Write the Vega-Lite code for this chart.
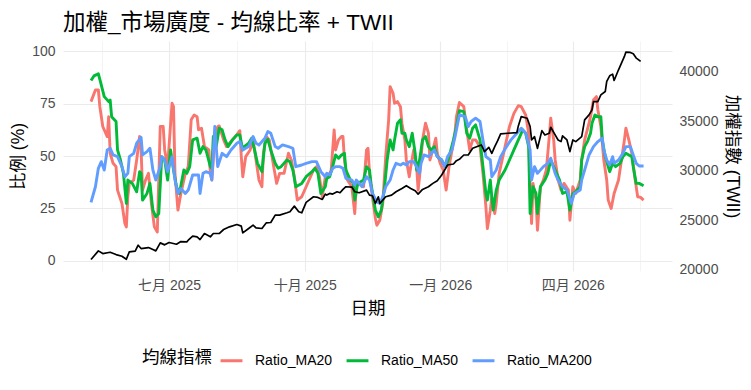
{
  "$schema": "https://vega.github.io/schema/vega-lite/v6.json",
  "width": 609,
  "height": 230,
  "autosize": {"type": "none"},
  "padding": {"left": 63, "top": 41, "right": 79, "bottom": 119},
  "background": "white",
  "config": {
    "font": "Liberation Sans, Noto Sans CJK TC, sans-serif",
    "view": {"stroke": null}
  },
  "title": {
    "text": "加權_市場廣度 - 均線比率 + TWII",
    "anchor": "start",
    "frame": "group",
    "fontSize": 22.5,
    "fontWeight": "normal",
    "color": "#000000",
    "baseline": "alphabetic",
    "offset": 10,
    "dy": 21.5
  },
  "datasets": {
    "ma20": [
      {"date": "2025-05-09", "ratio": 76.0}, {"date": "2025-05-12", "ratio": 81.6}, {"date": "2025-05-14", "ratio": 81.6},
      {"date": "2025-05-15", "ratio": 73.6}, {"date": "2025-05-17", "ratio": 64.1}, {"date": "2025-05-20", "ratio": 59.3},
      {"date": "2025-05-21", "ratio": 68.8}, {"date": "2025-05-22", "ratio": 51.3}, {"date": "2025-05-24", "ratio": 46.5},
      {"date": "2025-05-26", "ratio": 44.9}, {"date": "2025-05-27", "ratio": 33.7}, {"date": "2025-05-30", "ratio": 27.3},
      {"date": "2025-06-01", "ratio": 17.7}, {"date": "2025-06-02", "ratio": 16.1}, {"date": "2025-06-03", "ratio": 30.5},
      {"date": "2025-06-04", "ratio": 36.9}, {"date": "2025-06-07", "ratio": 38.5}, {"date": "2025-06-09", "ratio": 48.1},
      {"date": "2025-06-11", "ratio": 59.3}, {"date": "2025-06-12", "ratio": 52.9}, {"date": "2025-06-13", "ratio": 33.7},
      {"date": "2025-06-15", "ratio": 38.5}, {"date": "2025-06-17", "ratio": 41.7}, {"date": "2025-06-19", "ratio": 27.3},
      {"date": "2025-06-21", "ratio": 16.1}, {"date": "2025-06-23", "ratio": 13.7}, {"date": "2025-06-25", "ratio": 64.1},
      {"date": "2025-06-27", "ratio": 64.1}, {"date": "2025-06-28", "ratio": 52.9}, {"date": "2025-06-30", "ratio": 44.9},
      {"date": "2025-07-03", "ratio": 75.2}, {"date": "2025-07-04", "ratio": 73.6}, {"date": "2025-07-05", "ratio": 41.7},
      {"date": "2025-07-07", "ratio": 24.1}, {"date": "2025-07-09", "ratio": 32.1}, {"date": "2025-07-12", "ratio": 41.7},
      {"date": "2025-07-14", "ratio": 44.9}, {"date": "2025-07-16", "ratio": 67.3}, {"date": "2025-07-18", "ratio": 69.6},
      {"date": "2025-07-20", "ratio": 68.8}, {"date": "2025-07-21", "ratio": 62.5}, {"date": "2025-07-23", "ratio": 63.3},
      {"date": "2025-07-25", "ratio": 54.5}, {"date": "2025-07-28", "ratio": 52.9}, {"date": "2025-07-29", "ratio": 41.7},
      {"date": "2025-07-30", "ratio": 38.5}, {"date": "2025-08-01", "ratio": 57.7}, {"date": "2025-08-03", "ratio": 64.1},
      {"date": "2025-08-04", "ratio": 64.4}, {"date": "2025-08-07", "ratio": 57.7}, {"date": "2025-08-09", "ratio": 54.5},
      {"date": "2025-08-11", "ratio": 56.1}, {"date": "2025-08-15", "ratio": 59.3}, {"date": "2025-08-18", "ratio": 62.1},
      {"date": "2025-08-19", "ratio": 49.7}, {"date": "2025-08-20", "ratio": 40.1}, {"date": "2025-08-22", "ratio": 49.7},
      {"date": "2025-08-25", "ratio": 52.9}, {"date": "2025-08-27", "ratio": 57.7}, {"date": "2025-08-29", "ratio": 48.1},
      {"date": "2025-08-31", "ratio": 38.5}, {"date": "2025-09-02", "ratio": 35.3}, {"date": "2025-09-03", "ratio": 51.3},
      {"date": "2025-09-05", "ratio": 59.3}, {"date": "2025-09-07", "ratio": 57.7}, {"date": "2025-09-10", "ratio": 44.9},
      {"date": "2025-09-12", "ratio": 36.9}, {"date": "2025-09-14", "ratio": 41.7}, {"date": "2025-09-17", "ratio": 41.7},
      {"date": "2025-09-20", "ratio": 51.3}, {"date": "2025-09-22", "ratio": 48.1}, {"date": "2025-09-24", "ratio": 40.1},
      {"date": "2025-09-26", "ratio": 28.9}, {"date": "2025-09-29", "ratio": 30.5}, {"date": "2025-10-02", "ratio": 35.3},
      {"date": "2025-10-07", "ratio": 43.3}, {"date": "2025-10-09", "ratio": 44.9}, {"date": "2025-10-11", "ratio": 40.1},
      {"date": "2025-10-13", "ratio": 30.5}, {"date": "2025-10-15", "ratio": 40.0}, {"date": "2025-10-17", "ratio": 40.1},
      {"date": "2025-10-19", "ratio": 43.3}, {"date": "2025-10-21", "ratio": 62.5}, {"date": "2025-10-22", "ratio": 52.9},
      {"date": "2025-10-24", "ratio": 57.7}, {"date": "2025-10-26", "ratio": 59.3}, {"date": "2025-10-27", "ratio": 59.3},
      {"date": "2025-10-28", "ratio": 48.1}, {"date": "2025-10-30", "ratio": 38.5}, {"date": "2025-11-02", "ratio": 35.3},
      {"date": "2025-11-04", "ratio": 22.5}, {"date": "2025-11-05", "ratio": 35.3}, {"date": "2025-11-07", "ratio": 36.9},
      {"date": "2025-11-10", "ratio": 35.3}, {"date": "2025-11-12", "ratio": 52.9}, {"date": "2025-11-13", "ratio": 53.7},
      {"date": "2025-11-14", "ratio": 41.7}, {"date": "2025-11-16", "ratio": 30.5}, {"date": "2025-11-18", "ratio": 20.1},
      {"date": "2025-11-19", "ratio": 16.9}, {"date": "2025-11-21", "ratio": 19.3}, {"date": "2025-11-23", "ratio": 27.3},
      {"date": "2025-11-25", "ratio": 49.7}, {"date": "2025-11-27", "ratio": 67.3}, {"date": "2025-11-28", "ratio": 83.2},
      {"date": "2025-11-30", "ratio": 80.0}, {"date": "2025-12-01", "ratio": 75.2}, {"date": "2025-12-03", "ratio": 76.0},
      {"date": "2025-12-05", "ratio": 73.6}, {"date": "2025-12-06", "ratio": 65.7}, {"date": "2025-12-08", "ratio": 57.7},
      {"date": "2025-12-09", "ratio": 48.1}, {"date": "2025-12-11", "ratio": 40.1}, {"date": "2025-12-12", "ratio": 44.9},
      {"date": "2025-12-14", "ratio": 52.9}, {"date": "2025-12-16", "ratio": 44.9}, {"date": "2025-12-17", "ratio": 33.7},
      {"date": "2025-12-18", "ratio": 40.1}, {"date": "2025-12-20", "ratio": 57.7}, {"date": "2025-12-22", "ratio": 65.7},
      {"date": "2025-12-24", "ratio": 60.9}, {"date": "2025-12-25", "ratio": 48.1}, {"date": "2025-12-27", "ratio": 52.9},
      {"date": "2025-12-29", "ratio": 58.5}, {"date": "2025-12-30", "ratio": 51.3}, {"date": "2026-01-01", "ratio": 46.5},
      {"date": "2026-01-03", "ratio": 43.3}, {"date": "2026-01-05", "ratio": 33.7}, {"date": "2026-01-07", "ratio": 44.9},
      {"date": "2026-01-09", "ratio": 52.9}, {"date": "2026-01-11", "ratio": 60.9}, {"date": "2026-01-12", "ratio": 68.8},
      {"date": "2026-01-14", "ratio": 75.6}, {"date": "2026-01-17", "ratio": 73.6}, {"date": "2026-01-19", "ratio": 62.5},
      {"date": "2026-01-21", "ratio": 52.9}, {"date": "2026-01-23", "ratio": 57.7}, {"date": "2026-01-25", "ratio": 57.7},
      {"date": "2026-01-28", "ratio": 54.5}, {"date": "2026-01-30", "ratio": 41.7}, {"date": "2026-02-01", "ratio": 25.7},
      {"date": "2026-02-02", "ratio": 15.3}, {"date": "2026-02-04", "ratio": 24.1}, {"date": "2026-02-05", "ratio": 30.5},
      {"date": "2026-02-07", "ratio": 22.5}, {"date": "2026-02-08", "ratio": 27.3}, {"date": "2026-02-10", "ratio": 41.7},
      {"date": "2026-02-14", "ratio": 54.5}, {"date": "2026-02-17", "ratio": 64.1}, {"date": "2026-02-20", "ratio": 70.4},
      {"date": "2026-02-23", "ratio": 74.1}, {"date": "2026-02-25", "ratio": 73.6}, {"date": "2026-02-28", "ratio": 69.6},
      {"date": "2026-03-02", "ratio": 60.9}, {"date": "2026-03-03", "ratio": 35.3}, {"date": "2026-03-04", "ratio": 17.7},
      {"date": "2026-03-05", "ratio": 36.9}, {"date": "2026-03-07", "ratio": 28.9}, {"date": "2026-03-08", "ratio": 14.5},
      {"date": "2026-03-10", "ratio": 35.3}, {"date": "2026-03-12", "ratio": 38.5}, {"date": "2026-03-14", "ratio": 43.3},
      {"date": "2026-03-16", "ratio": 59.3}, {"date": "2026-03-17", "ratio": 68.1}, {"date": "2026-03-19", "ratio": 57.7},
      {"date": "2026-03-20", "ratio": 48.1}, {"date": "2026-03-22", "ratio": 38.5}, {"date": "2026-03-24", "ratio": 33.7},
      {"date": "2026-03-26", "ratio": 36.9}, {"date": "2026-03-29", "ratio": 33.7}, {"date": "2026-03-30", "ratio": 19.3},
      {"date": "2026-04-01", "ratio": 35.3}, {"date": "2026-04-03", "ratio": 32.1}, {"date": "2026-04-06", "ratio": 38.5},
      {"date": "2026-04-07", "ratio": 48.1}, {"date": "2026-04-09", "ratio": 57.7}, {"date": "2026-04-12", "ratio": 65.7},
      {"date": "2026-04-13", "ratio": 68.8}, {"date": "2026-04-15", "ratio": 76.8}, {"date": "2026-04-17", "ratio": 78.4},
      {"date": "2026-04-18", "ratio": 72.0}, {"date": "2026-04-20", "ratio": 64.1}, {"date": "2026-04-22", "ratio": 48.1},
      {"date": "2026-04-24", "ratio": 38.5}, {"date": "2026-04-25", "ratio": 28.9}, {"date": "2026-04-27", "ratio": 24.9},
      {"date": "2026-04-29", "ratio": 32.1}, {"date": "2026-05-02", "ratio": 38.5}, {"date": "2026-05-04", "ratio": 48.1},
      {"date": "2026-05-06", "ratio": 57.7}, {"date": "2026-05-07", "ratio": 63.3}, {"date": "2026-05-09", "ratio": 57.7},
      {"date": "2026-05-11", "ratio": 51.3}, {"date": "2026-05-13", "ratio": 40.1}, {"date": "2026-05-15", "ratio": 30.5},
      {"date": "2026-05-17", "ratio": 30.2}, {"date": "2026-05-19", "ratio": 28.9}
    ],
    "ma50": [
      {"date": "2025-05-09", "ratio": 86.1}, {"date": "2025-05-11", "ratio": 88.3}, {"date": "2025-05-14", "ratio": 89.3},
      {"date": "2025-05-15", "ratio": 86.7}, {"date": "2025-05-18", "ratio": 78.4}, {"date": "2025-05-21", "ratio": 76.0},
      {"date": "2025-05-22", "ratio": 76.8}, {"date": "2025-05-23", "ratio": 68.8}, {"date": "2025-05-26", "ratio": 66.5},
      {"date": "2025-05-27", "ratio": 52.9}, {"date": "2025-05-29", "ratio": 48.1}, {"date": "2025-05-31", "ratio": 41.7},
      {"date": "2025-06-02", "ratio": 27.3}, {"date": "2025-06-03", "ratio": 38.5}, {"date": "2025-06-06", "ratio": 36.9},
      {"date": "2025-06-09", "ratio": 32.9}, {"date": "2025-06-11", "ratio": 42.5}, {"date": "2025-06-12", "ratio": 41.7},
      {"date": "2025-06-13", "ratio": 28.9}, {"date": "2025-06-16", "ratio": 32.1}, {"date": "2025-06-18", "ratio": 36.9},
      {"date": "2025-06-20", "ratio": 24.1}, {"date": "2025-06-22", "ratio": 20.9}, {"date": "2025-06-24", "ratio": 22.5},
      {"date": "2025-06-26", "ratio": 49.7}, {"date": "2025-06-28", "ratio": 48.1}, {"date": "2025-06-30", "ratio": 38.5},
      {"date": "2025-07-02", "ratio": 52.9}, {"date": "2025-07-04", "ratio": 43.3}, {"date": "2025-07-06", "ratio": 35.3},
      {"date": "2025-07-08", "ratio": 32.1}, {"date": "2025-07-11", "ratio": 43.3}, {"date": "2025-07-13", "ratio": 41.7},
      {"date": "2025-07-15", "ratio": 44.9}, {"date": "2025-07-17", "ratio": 57.7}, {"date": "2025-07-20", "ratio": 58.5},
      {"date": "2025-07-22", "ratio": 51.3}, {"date": "2025-07-24", "ratio": 54.5}, {"date": "2025-07-26", "ratio": 52.9},
      {"date": "2025-07-29", "ratio": 44.9}, {"date": "2025-07-30", "ratio": 44.1}, {"date": "2025-07-31", "ratio": 59.3},
      {"date": "2025-08-02", "ratio": 54.5}, {"date": "2025-08-04", "ratio": 63.3}, {"date": "2025-08-06", "ratio": 62.5},
      {"date": "2025-08-08", "ratio": 57.7}, {"date": "2025-08-10", "ratio": 54.5}, {"date": "2025-08-13", "ratio": 57.7},
      {"date": "2025-08-16", "ratio": 60.1}, {"date": "2025-08-18", "ratio": 60.1}, {"date": "2025-08-20", "ratio": 52.9},
      {"date": "2025-08-21", "ratio": 54.5}, {"date": "2025-08-24", "ratio": 56.1}, {"date": "2025-08-26", "ratio": 58.5},
      {"date": "2025-08-28", "ratio": 52.9}, {"date": "2025-08-30", "ratio": 46.5}, {"date": "2025-09-02", "ratio": 42.5},
      {"date": "2025-09-04", "ratio": 56.1}, {"date": "2025-09-06", "ratio": 58.0}, {"date": "2025-09-08", "ratio": 52.9},
      {"date": "2025-09-11", "ratio": 46.5}, {"date": "2025-09-13", "ratio": 44.1}, {"date": "2025-09-15", "ratio": 44.9},
      {"date": "2025-09-19", "ratio": 48.1}, {"date": "2025-09-21", "ratio": 47.3}, {"date": "2025-09-23", "ratio": 43.3},
      {"date": "2025-09-25", "ratio": 35.3}, {"date": "2025-09-29", "ratio": 36.9}, {"date": "2025-10-02", "ratio": 40.1},
      {"date": "2025-10-06", "ratio": 42.5}, {"date": "2025-10-08", "ratio": 44.1}, {"date": "2025-10-10", "ratio": 41.7},
      {"date": "2025-10-12", "ratio": 32.1}, {"date": "2025-10-15", "ratio": 35.3}, {"date": "2025-10-16", "ratio": 39.3},
      {"date": "2025-10-18", "ratio": 40.1}, {"date": "2025-10-20", "ratio": 44.9}, {"date": "2025-10-22", "ratio": 50.5},
      {"date": "2025-10-24", "ratio": 48.9}, {"date": "2025-10-26", "ratio": 50.5}, {"date": "2025-10-28", "ratio": 51.3},
      {"date": "2025-10-29", "ratio": 43.3}, {"date": "2025-11-01", "ratio": 38.5}, {"date": "2025-11-03", "ratio": 36.9},
      {"date": "2025-11-04", "ratio": 28.9}, {"date": "2025-11-06", "ratio": 36.9}, {"date": "2025-11-10", "ratio": 38.5},
      {"date": "2025-11-12", "ratio": 44.9}, {"date": "2025-11-14", "ratio": 43.3}, {"date": "2025-11-15", "ratio": 36.9},
      {"date": "2025-11-18", "ratio": 24.1}, {"date": "2025-11-20", "ratio": 20.9}, {"date": "2025-11-22", "ratio": 24.1},
      {"date": "2025-11-24", "ratio": 33.7}, {"date": "2025-11-26", "ratio": 48.1}, {"date": "2025-11-28", "ratio": 57.7},
      {"date": "2025-11-30", "ratio": 52.9}, {"date": "2025-12-01", "ratio": 57.7}, {"date": "2025-12-03", "ratio": 65.7},
      {"date": "2025-12-05", "ratio": 67.3}, {"date": "2025-12-06", "ratio": 60.9}, {"date": "2025-12-08", "ratio": 60.9},
      {"date": "2025-12-09", "ratio": 57.7}, {"date": "2025-12-11", "ratio": 54.5}, {"date": "2025-12-13", "ratio": 60.9},
      {"date": "2025-12-15", "ratio": 51.3}, {"date": "2025-12-16", "ratio": 43.3}, {"date": "2025-12-18", "ratio": 48.1},
      {"date": "2025-12-20", "ratio": 57.7}, {"date": "2025-12-22", "ratio": 59.3}, {"date": "2025-12-24", "ratio": 54.5},
      {"date": "2025-12-26", "ratio": 52.9}, {"date": "2025-12-28", "ratio": 54.5}, {"date": "2025-12-30", "ratio": 49.7},
      {"date": "2026-01-02", "ratio": 48.1}, {"date": "2026-01-03", "ratio": 46.5}, {"date": "2026-01-05", "ratio": 44.9},
      {"date": "2026-01-07", "ratio": 49.7}, {"date": "2026-01-10", "ratio": 57.7}, {"date": "2026-01-12", "ratio": 64.1},
      {"date": "2026-01-14", "ratio": 71.7}, {"date": "2026-01-17", "ratio": 71.2}, {"date": "2026-01-19", "ratio": 60.9},
      {"date": "2026-01-21", "ratio": 58.5}, {"date": "2026-01-23", "ratio": 63.3}, {"date": "2026-01-25", "ratio": 64.9},
      {"date": "2026-01-28", "ratio": 57.7}, {"date": "2026-01-30", "ratio": 44.9}, {"date": "2026-02-01", "ratio": 32.1},
      {"date": "2026-02-02", "ratio": 28.9}, {"date": "2026-02-04", "ratio": 38.5}, {"date": "2026-02-05", "ratio": 30.5},
      {"date": "2026-02-06", "ratio": 24.1}, {"date": "2026-02-08", "ratio": 33.7}, {"date": "2026-02-10", "ratio": 38.5},
      {"date": "2026-02-14", "ratio": 43.3}, {"date": "2026-02-17", "ratio": 48.1}, {"date": "2026-02-20", "ratio": 52.9},
      {"date": "2026-02-24", "ratio": 59.3}, {"date": "2026-02-26", "ratio": 62.5}, {"date": "2026-02-28", "ratio": 60.9},
      {"date": "2026-03-02", "ratio": 54.5}, {"date": "2026-03-03", "ratio": 22.5}, {"date": "2026-03-05", "ratio": 35.3},
      {"date": "2026-03-07", "ratio": 32.1}, {"date": "2026-03-08", "ratio": 22.5}, {"date": "2026-03-10", "ratio": 35.3},
      {"date": "2026-03-13", "ratio": 38.5}, {"date": "2026-03-15", "ratio": 41.7}, {"date": "2026-03-17", "ratio": 48.1},
      {"date": "2026-03-19", "ratio": 44.9}, {"date": "2026-03-21", "ratio": 41.7}, {"date": "2026-03-23", "ratio": 38.5},
      {"date": "2026-03-25", "ratio": 32.1}, {"date": "2026-03-28", "ratio": 32.9}, {"date": "2026-03-30", "ratio": 24.1},
      {"date": "2026-04-01", "ratio": 32.1}, {"date": "2026-04-03", "ratio": 32.9}, {"date": "2026-04-06", "ratio": 35.3},
      {"date": "2026-04-07", "ratio": 48.1}, {"date": "2026-04-09", "ratio": 54.5}, {"date": "2026-04-11", "ratio": 57.0},
      {"date": "2026-04-13", "ratio": 60.9}, {"date": "2026-04-14", "ratio": 65.7}, {"date": "2026-04-16", "ratio": 69.6},
      {"date": "2026-04-18", "ratio": 68.8}, {"date": "2026-04-20", "ratio": 68.8}, {"date": "2026-04-21", "ratio": 57.7},
      {"date": "2026-04-23", "ratio": 49.7}, {"date": "2026-04-25", "ratio": 44.9}, {"date": "2026-04-26", "ratio": 42.5},
      {"date": "2026-04-28", "ratio": 46.5}, {"date": "2026-04-30", "ratio": 44.9}, {"date": "2026-05-03", "ratio": 46.5},
      {"date": "2026-05-05", "ratio": 49.7}, {"date": "2026-05-07", "ratio": 51.3}, {"date": "2026-05-09", "ratio": 50.5},
      {"date": "2026-05-11", "ratio": 49.7}, {"date": "2026-05-12", "ratio": 44.9}, {"date": "2026-05-14", "ratio": 36.9},
      {"date": "2026-05-16", "ratio": 36.9}, {"date": "2026-05-19", "ratio": 35.8}
    ],
    "ma200": [
      {"date": "2025-05-09", "ratio": 27.8}, {"date": "2025-05-12", "ratio": 35.3}, {"date": "2025-05-14", "ratio": 44.1},
      {"date": "2025-05-16", "ratio": 47.3}, {"date": "2025-05-18", "ratio": 43.3}, {"date": "2025-05-20", "ratio": 52.9},
      {"date": "2025-05-22", "ratio": 53.7}, {"date": "2025-05-24", "ratio": 50.5}, {"date": "2025-05-27", "ratio": 49.7},
      {"date": "2025-05-30", "ratio": 44.9}, {"date": "2025-06-01", "ratio": 40.1}, {"date": "2025-06-03", "ratio": 41.7},
      {"date": "2025-06-04", "ratio": 49.7}, {"date": "2025-06-07", "ratio": 51.3}, {"date": "2025-06-09", "ratio": 56.1},
      {"date": "2025-06-12", "ratio": 58.9}, {"date": "2025-06-13", "ratio": 50.5}, {"date": "2025-06-16", "ratio": 52.1},
      {"date": "2025-06-18", "ratio": 53.7}, {"date": "2025-06-20", "ratio": 43.3}, {"date": "2025-06-22", "ratio": 38.5},
      {"date": "2025-06-25", "ratio": 44.9}, {"date": "2025-06-26", "ratio": 49.7}, {"date": "2025-06-28", "ratio": 48.1},
      {"date": "2025-06-30", "ratio": 42.5}, {"date": "2025-07-03", "ratio": 49.7}, {"date": "2025-07-05", "ratio": 38.5},
      {"date": "2025-07-07", "ratio": 32.1}, {"date": "2025-07-09", "ratio": 34.5}, {"date": "2025-07-12", "ratio": 32.1},
      {"date": "2025-07-14", "ratio": 33.7}, {"date": "2025-07-17", "ratio": 40.9}, {"date": "2025-07-21", "ratio": 40.9},
      {"date": "2025-07-22", "ratio": 32.1}, {"date": "2025-07-24", "ratio": 41.7}, {"date": "2025-07-26", "ratio": 42.5},
      {"date": "2025-07-29", "ratio": 41.7}, {"date": "2025-07-30", "ratio": 38.5}, {"date": "2025-08-01", "ratio": 64.1},
      {"date": "2025-08-03", "ratio": 44.9}, {"date": "2025-08-06", "ratio": 51.3}, {"date": "2025-08-09", "ratio": 49.7},
      {"date": "2025-08-12", "ratio": 52.9}, {"date": "2025-08-16", "ratio": 56.1}, {"date": "2025-08-18", "ratio": 56.9},
      {"date": "2025-08-20", "ratio": 52.9}, {"date": "2025-08-24", "ratio": 54.5}, {"date": "2025-08-27", "ratio": 59.3},
      {"date": "2025-08-29", "ratio": 56.1}, {"date": "2025-08-31", "ratio": 55.3}, {"date": "2025-09-04", "ratio": 58.5},
      {"date": "2025-09-06", "ratio": 61.7}, {"date": "2025-09-08", "ratio": 60.9}, {"date": "2025-09-11", "ratio": 54.5},
      {"date": "2025-09-13", "ratio": 53.7}, {"date": "2025-09-16", "ratio": 55.3}, {"date": "2025-09-20", "ratio": 54.5},
      {"date": "2025-09-23", "ratio": 53.7}, {"date": "2025-09-25", "ratio": 44.9}, {"date": "2025-09-29", "ratio": 45.7},
      {"date": "2025-10-02", "ratio": 46.5}, {"date": "2025-10-06", "ratio": 47.3}, {"date": "2025-10-09", "ratio": 47.3},
      {"date": "2025-10-12", "ratio": 42.5}, {"date": "2025-10-15", "ratio": 40.1}, {"date": "2025-10-16", "ratio": 41.7},
      {"date": "2025-10-18", "ratio": 40.9}, {"date": "2025-10-20", "ratio": 44.1}, {"date": "2025-10-22", "ratio": 44.9},
      {"date": "2025-10-25", "ratio": 44.9}, {"date": "2025-10-27", "ratio": 44.1}, {"date": "2025-10-29", "ratio": 39.3},
      {"date": "2025-11-02", "ratio": 38.5}, {"date": "2025-11-04", "ratio": 36.1}, {"date": "2025-11-05", "ratio": 38.5},
      {"date": "2025-11-09", "ratio": 35.3}, {"date": "2025-11-12", "ratio": 40.1}, {"date": "2025-11-14", "ratio": 38.5},
      {"date": "2025-11-16", "ratio": 32.1}, {"date": "2025-11-19", "ratio": 28.1}, {"date": "2025-11-21", "ratio": 27.3},
      {"date": "2025-11-23", "ratio": 30.5}, {"date": "2025-11-25", "ratio": 35.3}, {"date": "2025-11-28", "ratio": 38.5},
      {"date": "2025-11-30", "ratio": 43.3}, {"date": "2025-12-02", "ratio": 46.5}, {"date": "2025-12-05", "ratio": 45.7},
      {"date": "2025-12-07", "ratio": 46.5}, {"date": "2025-12-09", "ratio": 45.7}, {"date": "2025-12-11", "ratio": 47.3},
      {"date": "2025-12-14", "ratio": 47.3}, {"date": "2025-12-16", "ratio": 44.9}, {"date": "2025-12-18", "ratio": 41.7},
      {"date": "2025-12-19", "ratio": 46.5}, {"date": "2025-12-21", "ratio": 50.5}, {"date": "2025-12-24", "ratio": 49.7},
      {"date": "2025-12-26", "ratio": 51.3}, {"date": "2025-12-28", "ratio": 52.9}, {"date": "2025-12-30", "ratio": 49.7},
      {"date": "2026-01-02", "ratio": 48.1}, {"date": "2026-01-04", "ratio": 44.9}, {"date": "2026-01-06", "ratio": 49.7},
      {"date": "2026-01-09", "ratio": 52.9}, {"date": "2026-01-11", "ratio": 59.0}, {"date": "2026-01-14", "ratio": 69.6},
      {"date": "2026-01-18", "ratio": 68.8}, {"date": "2026-01-20", "ratio": 64.1}, {"date": "2026-01-22", "ratio": 66.5},
      {"date": "2026-01-25", "ratio": 68.1}, {"date": "2026-01-28", "ratio": 66.5}, {"date": "2026-01-30", "ratio": 57.7},
      {"date": "2026-02-01", "ratio": 49.7}, {"date": "2026-02-04", "ratio": 48.1}, {"date": "2026-02-05", "ratio": 40.1},
      {"date": "2026-02-08", "ratio": 43.3}, {"date": "2026-02-11", "ratio": 49.7}, {"date": "2026-02-15", "ratio": 54.5},
      {"date": "2026-02-18", "ratio": 57.7}, {"date": "2026-02-22", "ratio": 60.9}, {"date": "2026-02-25", "ratio": 63.3},
      {"date": "2026-02-28", "ratio": 60.9}, {"date": "2026-03-03", "ratio": 52.9}, {"date": "2026-03-04", "ratio": 38.5},
      {"date": "2026-03-06", "ratio": 44.9}, {"date": "2026-03-08", "ratio": 41.7}, {"date": "2026-03-12", "ratio": 44.9},
      {"date": "2026-03-15", "ratio": 46.5}, {"date": "2026-03-17", "ratio": 48.9}, {"date": "2026-03-20", "ratio": 41.7},
      {"date": "2026-03-22", "ratio": 38.5}, {"date": "2026-03-25", "ratio": 35.3}, {"date": "2026-03-28", "ratio": 33.7},
      {"date": "2026-03-31", "ratio": 27.3}, {"date": "2026-04-02", "ratio": 32.1}, {"date": "2026-04-06", "ratio": 33.7},
      {"date": "2026-04-07", "ratio": 38.5}, {"date": "2026-04-09", "ratio": 43.3}, {"date": "2026-04-12", "ratio": 50.5},
      {"date": "2026-04-15", "ratio": 54.5}, {"date": "2026-04-18", "ratio": 56.9}, {"date": "2026-04-21", "ratio": 58.5},
      {"date": "2026-04-22", "ratio": 52.9}, {"date": "2026-04-24", "ratio": 48.1}, {"date": "2026-04-26", "ratio": 45.7},
      {"date": "2026-04-28", "ratio": 49.7}, {"date": "2026-04-29", "ratio": 46.5}, {"date": "2026-05-02", "ratio": 48.1},
      {"date": "2026-05-05", "ratio": 51.3}, {"date": "2026-05-07", "ratio": 54.5}, {"date": "2026-05-10", "ratio": 54.5},
      {"date": "2026-05-12", "ratio": 50.5}, {"date": "2026-05-14", "ratio": 46.5}, {"date": "2026-05-16", "ratio": 45.2},
      {"date": "2026-05-19", "ratio": 45.2}
    ],
    "twii": [
      {"date": "2025-05-09", "twii": 21011}, {"date": "2025-05-14", "twii": 21890}, {"date": "2025-05-17", "twii": 21619},
      {"date": "2025-05-22", "twii": 21754}, {"date": "2025-05-26", "twii": 21518}, {"date": "2025-05-30", "twii": 21348},
      {"date": "2025-06-02", "twii": 21044}, {"date": "2025-06-04", "twii": 21788}, {"date": "2025-06-08", "twii": 21856},
      {"date": "2025-06-10", "twii": 22464}, {"date": "2025-06-12", "twii": 22126}, {"date": "2025-06-17", "twii": 22227},
      {"date": "2025-06-20", "twii": 22025}, {"date": "2025-06-22", "twii": 21889}, {"date": "2025-06-25", "twii": 22700},
      {"date": "2025-06-28", "twii": 22498}, {"date": "2025-07-01", "twii": 22734}, {"date": "2025-07-06", "twii": 22565},
      {"date": "2025-07-09", "twii": 22836}, {"date": "2025-07-13", "twii": 22802}, {"date": "2025-07-14", "twii": 22971},
      {"date": "2025-07-17", "twii": 23377}, {"date": "2025-07-20", "twii": 23309}, {"date": "2025-07-22", "twii": 23039},
      {"date": "2025-07-25", "twii": 23647}, {"date": "2025-07-29", "twii": 23309}, {"date": "2025-07-31", "twii": 23647},
      {"date": "2025-08-04", "twii": 23647}, {"date": "2025-08-07", "twii": 24053}, {"date": "2025-08-11", "twii": 24323},
      {"date": "2025-08-16", "twii": 24560}, {"date": "2025-08-19", "twii": 24391}, {"date": "2025-08-20", "twii": 23715},
      {"date": "2025-08-24", "twii": 24154}, {"date": "2025-08-27", "twii": 24492}, {"date": "2025-08-29", "twii": 24222},
      {"date": "2025-09-02", "twii": 24154}, {"date": "2025-09-05", "twii": 24729}, {"date": "2025-09-08", "twii": 24762},
      {"date": "2025-09-11", "twii": 25506}, {"date": "2025-09-14", "twii": 25506}, {"date": "2025-09-19", "twii": 25742},
      {"date": "2025-09-21", "twii": 25844}, {"date": "2025-09-24", "twii": 26419}, {"date": "2025-09-27", "twii": 25844},
      {"date": "2025-09-29", "twii": 25742}, {"date": "2025-10-02", "twii": 26790}, {"date": "2025-10-04", "twii": 27027},
      {"date": "2025-10-07", "twii": 27365}, {"date": "2025-10-10", "twii": 27297}, {"date": "2025-10-13", "twii": 27095},
      {"date": "2025-10-15", "twii": 27636}, {"date": "2025-10-16", "twii": 27534}, {"date": "2025-10-18", "twii": 27703},
      {"date": "2025-10-20", "twii": 27636}, {"date": "2025-10-23", "twii": 27872}, {"date": "2025-10-25", "twii": 27771},
      {"date": "2025-10-27", "twii": 28109}, {"date": "2025-10-29", "twii": 28379}, {"date": "2025-11-02", "twii": 28345},
      {"date": "2025-11-04", "twii": 27872}, {"date": "2025-11-07", "twii": 27771}, {"date": "2025-11-12", "twii": 28041},
      {"date": "2025-11-14", "twii": 27534}, {"date": "2025-11-16", "twii": 27466}, {"date": "2025-11-18", "twii": 26689},
      {"date": "2025-11-20", "twii": 27365}, {"date": "2025-11-21", "twii": 26689}, {"date": "2025-11-23", "twii": 27027},
      {"date": "2025-11-25", "twii": 27365}, {"date": "2025-11-29", "twii": 27534}, {"date": "2025-12-02", "twii": 27872},
      {"date": "2025-12-06", "twii": 28210}, {"date": "2025-12-09", "twii": 28481}, {"date": "2025-12-12", "twii": 28210},
      {"date": "2025-12-15", "twii": 27973}, {"date": "2025-12-17", "twii": 27636}, {"date": "2025-12-20", "twii": 28109},
      {"date": "2025-12-24", "twii": 28379}, {"date": "2025-12-27", "twii": 28717}, {"date": "2025-12-30", "twii": 28987},
      {"date": "2026-01-02", "twii": 29562}, {"date": "2026-01-04", "twii": 30069}, {"date": "2026-01-06", "twii": 30576},
      {"date": "2026-01-10", "twii": 30677}, {"date": "2026-01-12", "twii": 31015}, {"date": "2026-01-14", "twii": 31151},
      {"date": "2026-01-17", "twii": 31590}, {"date": "2026-01-20", "twii": 31590}, {"date": "2026-01-23", "twii": 32266},
      {"date": "2026-01-27", "twii": 32502}, {"date": "2026-01-29", "twii": 32604}, {"date": "2026-01-31", "twii": 31928},
      {"date": "2026-02-03", "twii": 32367}, {"date": "2026-02-05", "twii": 31759}, {"date": "2026-02-07", "twii": 32435},
      {"date": "2026-02-09", "twii": 33043}, {"date": "2026-02-11", "twii": 33719}, {"date": "2026-02-16", "twii": 33787},
      {"date": "2026-02-22", "twii": 33855}, {"date": "2026-02-23", "twii": 34531}, {"date": "2026-02-25", "twii": 35477},
      {"date": "2026-03-01", "twii": 35308}, {"date": "2026-03-03", "twii": 34463}, {"date": "2026-03-04", "twii": 33111},
      {"date": "2026-03-06", "twii": 33449}, {"date": "2026-03-08", "twii": 32266}, {"date": "2026-03-11", "twii": 34057},
      {"date": "2026-03-13", "twii": 33618}, {"date": "2026-03-16", "twii": 33787}, {"date": "2026-03-17", "twii": 34395},
      {"date": "2026-03-20", "twii": 33618}, {"date": "2026-03-22", "twii": 33111}, {"date": "2026-03-24", "twii": 32942},
      {"date": "2026-03-25", "twii": 33517}, {"date": "2026-03-28", "twii": 33111}, {"date": "2026-03-30", "twii": 31928},
      {"date": "2026-04-01", "twii": 33111}, {"date": "2026-04-03", "twii": 32942}, {"date": "2026-04-07", "twii": 33449},
      {"date": "2026-04-09", "twii": 35139}, {"date": "2026-04-12", "twii": 35646}, {"date": "2026-04-14", "twii": 36153},
      {"date": "2026-04-15", "twii": 36998}, {"date": "2026-04-18", "twii": 36998}, {"date": "2026-04-20", "twii": 37674},
      {"date": "2026-04-23", "twii": 38012}, {"date": "2026-04-24", "twii": 39026}, {"date": "2026-04-26", "twii": 39601},
      {"date": "2026-04-28", "twii": 39770}, {"date": "2026-04-29", "twii": 39127}, {"date": "2026-05-02", "twii": 40209},
      {"date": "2026-05-04", "twii": 40885}, {"date": "2026-05-06", "twii": 41561}, {"date": "2026-05-07", "twii": 42001},
      {"date": "2026-05-10", "twii": 41967}, {"date": "2026-05-12", "twii": 41831}, {"date": "2026-05-14", "twii": 41392},
      {"date": "2026-05-15", "twii": 41291}, {"date": "2026-05-17", "twii": 41054}
    ]
  },
  "layer": [
    {
      "layer": [
        {
          "data": {"name": "ma20"},
          "mark": {"type": "line", "strokeWidth": 2.9, "strokeJoin": "round"},
          "encoding": {
            "x": {
              "field": "date",
              "type": "temporal",
              "scale": {"type": "utc", "domain": ["2025-04-20T00:00:00Z", "2026-06-07T07:00:00Z"]},
              "axis": {
                "title": "日期",
                "values": [
                  {"year": 2025, "month": 5, "date": 16, "hours": 12, "utc": true},
                  {"year": 2025, "month": 7, "date": 1, "utc": true},
                  {"year": 2025, "month": 8, "date": 16, "utc": true},
                  {"year": 2025, "month": 10, "date": 1, "utc": true},
                  {"year": 2025, "month": 11, "date": 16, "utc": true},
                  {"year": 2026, "month": 1, "date": 1, "utc": true},
                  {"year": 2026, "month": 2, "date": 15, "utc": true},
                  {"year": 2026, "month": 4, "date": 1, "utc": true},
                  {"year": 2026, "month": 5, "date": 16, "hours": 12, "utc": true}
                ],
                "labelExpr": "utcdate(datum.value) == 1 ? ['一月','二月','三月','四月','五月','六月','七月','八月','九月','十月','十一月','十二月'][utcmonth(datum.value)] + ' ' + utcyear(datum.value) : ''",
                "grid": true,
                "gridColor": "#EBEBEB",
                "gridWidth": {"condition": {"test": "utcdate(datum.value) == 1", "value": 1.1}, "value": 0.55},
                "ticks": false,
                "domain": false,
                "labelFontSize": 14,
                "labelColor": "#4D4D4D",
                "labelPadding": 7,
                "labelFlush": false,
                "labelOverlap": false,
                "titleFontSize": 17.5,
                "titleFontWeight": "normal",
                "titleColor": "#000000",
                "titlePadding": 7
              }
            },
            "y": {
              "field": "ratio",
              "type": "quantitative",
              "scale": {"domain": [-5, 105], "nice": false, "zero": false},
              "axis": {
                "title": "比例 (%)",
                "values": [0, 12.5, 25, 37.5, 50, 62.5, 75, 87.5, 100],
                "labelExpr": "datum.value % 25 == 0 ? datum.label : ''",
                "grid": true,
                "gridColor": "#EBEBEB",
                "gridWidth": {"condition": {"test": "datum.value % 25 == 0", "value": 1.1}, "value": 0.55},
                "ticks": false,
                "domain": false,
                "labelFontSize": 14,
                "labelColor": "#4D4D4D",
                "labelPadding": 8,
                "titleFontSize": 17.5,
                "titleFontWeight": "normal",
                "titleColor": "#000000",
                "titleAngle": 270,
                "titleX": -45,
                "titleY": 115,
                "titleAlign": "center",
                "titleBaseline": "middle"
              }
            },
            "color": {
              "datum": "Ratio_MA20",
              "type": "nominal",
              "scale": {"domain": ["Ratio_MA20", "Ratio_MA50", "Ratio_MA200"], "range": ["#F8766D", "#00BA38", "#619CFF"]},
              "legend": {
                "title": "均線指標",
                "orient": "none",
                "direction": "horizontal",
                "legendX": 79,
                "legendY": 307,
                "titleOrient": "left",
                "titleFontSize": 17.5,
                "titleFontWeight": "normal",
                "titleColor": "#000000",
                "titlePadding": 7,
                "labelFontSize": 14,
                "labelColor": "#000000",
                "symbolType": "stroke",
                "symbolStrokeWidth": 3,
                "symbolSize": 480,
                "labelOffset": 11,
                "columnPadding": 7
              }
            }
          }
        },
        {
          "data": {"name": "ma50"},
          "mark": {"type": "line", "strokeWidth": 2.9, "strokeJoin": "round"},
          "encoding": {
            "x": {"field": "date", "type": "temporal"},
            "y": {"field": "ratio", "type": "quantitative"},
            "color": {"datum": "Ratio_MA50", "type": "nominal"}
          }
        },
        {
          "data": {"name": "ma200"},
          "mark": {"type": "line", "strokeWidth": 2.9, "strokeJoin": "round"},
          "encoding": {
            "x": {"field": "date", "type": "temporal"},
            "y": {"field": "ratio", "type": "quantitative"},
            "color": {"datum": "Ratio_MA200", "type": "nominal"}
          }
        }
      ]
    },
    {
      "data": {"name": "twii"},
      "mark": {"type": "line", "color": "#000000", "strokeWidth": 1.7, "strokeJoin": "round"},
      "encoding": {
        "x": {"field": "date", "type": "temporal"},
        "y": {
          "field": "twii",
          "type": "quantitative",
          "scale": {"domain": [19855, 43121], "nice": false, "zero": false},
          "axis": {
            "orient": "right",
            "title": "加權指數 (TWII)",
            "values": [20000, 25000, 30000, 35000, 40000],
            "format": "d",
            "grid": false,
            "ticks": false,
            "domain": false,
            "labelFontSize": 14,
            "labelColor": "#4D4D4D",
            "labelPadding": 7,
            "titleFontSize": 17.5,
            "titleFontWeight": "normal",
            "titleColor": "#000000",
            "titleAngle": 90,
            "titleX": 59.5,
            "titleY": 115,
            "titleAlign": "center",
            "titleBaseline": "middle"
          }
        }
      }
    }
  ],
  "resolve": {"scale": {"y": "independent"}}
}
